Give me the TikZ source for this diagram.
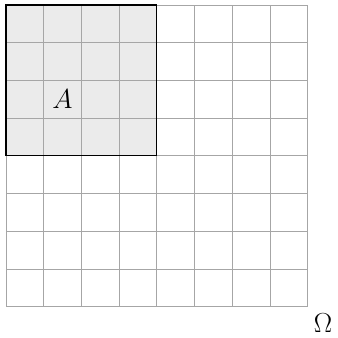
\documentclass[tikz,border=0pt]{standalone}
\begin{document}
\begin{tikzpicture}[x=1cm,y=1cm,
  gridline/.style={draw=black!35,line width=0.6pt},
  region/.style={fill=black!8,draw=black,line width=0.9pt},
  lbl/.style={font=\fontsize{22}{26}\selectfont,inner sep=0pt}]
\useasboundingbox (-0.16,-0.833) rectangle (8.78,8.133);
\fill[black!8] (0,4) rectangle (4,8);
\draw[gridline] (0,0) grid (8,8);
\draw[region,fill=none] (0,4) rectangle (4,8);
\node[lbl] (A) at (1.5,5.5) {$A$};
\node[lbl] (Om) at (8.41,-0.44) {$\Omega$};
\end{tikzpicture}
\end{document}
